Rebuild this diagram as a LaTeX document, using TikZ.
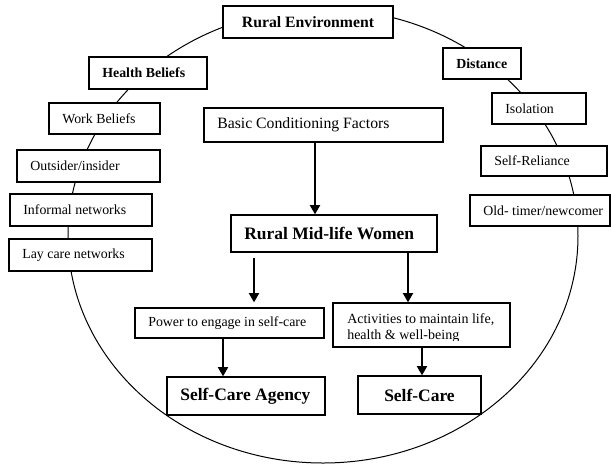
\documentclass[tikz,border=0pt]{standalone}
\usepackage{fontspec}
\setmainfont{Liberation Serif}
\usetikzlibrary{arrows.meta}
\newcommand{\lbx}[2]{\makebox[#1][l]{#2}}
\begin{document}
\begin{tikzpicture}[x=0.75pt,y=-0.75pt,
  box/.style={draw, line width=0.9pt, fill=white, rectangle, inner ysep=0pt, inner xsep=10pt},
  cbox/.style={draw, line width=0.9pt, fill=white, rectangle, inner ysep=0pt, inner xsep=0pt},
  sm/.style={font=\fontsize{10.4pt}{12pt}\selectfont},
  smb/.style={font=\fontsize{10.4pt}{12pt}\selectfont\bfseries},
  md/.style={font=\fontsize{11.8pt}{14pt}\selectfont},
  mdb/.style={font=\fontsize{11.8pt}{14pt}\selectfont\bfseries},
  lgb/.style={font=\fontsize{13.1pt}{15pt}\selectfont\bfseries},
  arr/.style={line width=1.5pt, -{Triangle[width=7.5pt,length=7pt]}},
  ring/.style={line width=0.75pt}]
\useasboundingbox (0,0) rectangle (611,465);
\draw[ring] (323,236) ellipse [x radius=191.25pt, y radius=170.25pt];
% top
\node[cbox, mdb, minimum width=127.5pt, minimum height=24pt] (renv) at (308,22) {Rural Environment};
% left column
\node[box, smb, minimum height=24pt] (hb) at (148,73) {\lbx{68.5pt}{Health Beliefs}};
\node[box, sm, minimum height=23.25pt] (wb) at (104.5,118.5) {\lbx{63.25pt}{Work Beliefs}};
\node[box, sm, minimum height=24pt] (oi) at (88.5,166) {\lbx{87.25pt}{Outsider/insider}};
\node[box, sm, minimum height=24pt] (inf) at (81,210) {\lbx{86.5pt}{Informal networks}};
\node[box, sm, minimum height=24pt] (lay) at (80.5,255) {\lbx{87.25pt}{Lay care networks}};
% right column
\node[box, smb, minimum height=23.25pt] (dist) at (482,63.5) {\lbx{38.5pt}{Distance}};
\node[box, sm, minimum height=23.25pt] (iso) at (539,108.5) {\lbx{50.5pt}{Isolation}};
\node[box, sm, minimum height=22.5pt] (sr) at (544,161) {\lbx{74.5pt}{Self-Reliance}};
\node[box, sm, minimum height=23.25pt] (old) at (540,210.5) {\lbx{85pt}{Old- timer/newcomer}};
% centre
\node[box, md, minimum height=25.5pt] (bcf) at (323.5,125) {\lbx{159.25pt}{Basic Conditioning Factors}};
\node[box, lgb, minimum height=27.75pt] (rmw) at (334,233.5) {\lbx{134.5pt}{Rural Mid-life Women}};
\node[box, sm, minimum height=22.5pt] (pow) at (229.5,323) {\lbx{121.75pt}{Power to engage in self-care}};
\node[cbox, minimum width=132.75pt, minimum height=33pt] (act) at (421.5,325) {};
\begin{scope}
\clip (333,303) rectangle (510,340);
\node[anchor=base west, inner sep=0pt, font=\fontsize{10.5pt}{12pt}\selectfont] (actt) at (347,323) {\begin{tabular}[t]{@{}l@{}}Activities to maintain life,\\health \& well-being\end{tabular}};
\end{scope}
\node[box, lgb, minimum height=28.5pt] (sca) at (246,396) {\lbx{98.5pt}{Self-Care Agency}};
\node[cbox, lgb, minimum width=92.25pt, minimum height=28.5pt] (sc) at (419.5,395) {Self-Care};
% arrows
\coordinate (x1) at (315,0);
\coordinate (x2) at (254,0);
\coordinate (x3) at (408,0);
\coordinate (x4) at (223,0);
\coordinate (x5) at (422,0);
\draw[arr] (bcf.south -| x1) -- (rmw.north -| x1);
\draw[arr, shorten <=3.75pt, shorten >=3.75pt] (rmw.south -| x2) -- (pow.north -| x2);
\draw[arr] (rmw.south -| x3) -- (act.north -| x3);
\draw[arr] (pow.south -| x4) -- (sca.north -| x4);
\draw[arr] (act.south -| x5) -- (sc.north -| x5);
\end{tikzpicture}
\end{document}
